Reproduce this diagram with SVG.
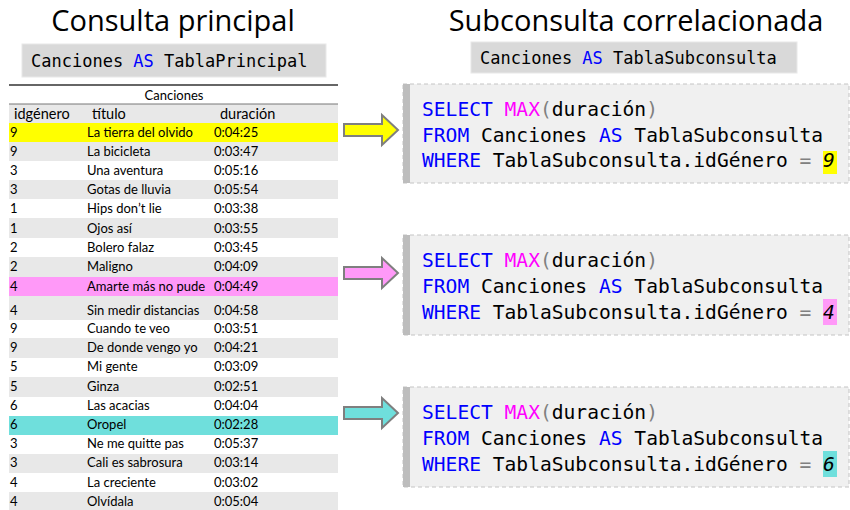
<svg xmlns="http://www.w3.org/2000/svg" width="850" height="510" viewBox="0 0 850 510">
<style>
.title{font-family:"Open Sans","Noto Sans",sans-serif;font-size:29px;fill:#000;text-anchor:middle}
.alias{font-family:"DejaVu Sans Mono","Liberation Mono",monospace;font-size:17px;fill:#000}
.aliasbox{fill:#d9d9d9;stroke:#e8e8e8;stroke-width:1}
.t{font-family:Lato,"Open Sans",sans-serif;font-size:13px;fill:#000}
.th{font-family:Lato,"Open Sans",sans-serif;font-size:14.5px;fill:#000}
.g{fill:#e8e8e8}
.code{font-family:"DejaVu Sans Mono","Liberation Mono",monospace;font-size:19.6px;fill:#000}
.kw{fill:#0000ff}
.fn{fill:#ff00ff}
.op{fill:#808080}
.box{fill:#f0f0f0;stroke:#c4c4c4;stroke-width:1;stroke-dasharray:4 3}
.bar{fill:#bdbdbd}
.arrow{stroke:#7f7f7f;stroke-width:2;stroke-linejoin:miter}
</style>

<!-- Titles -->
<g id="title-main"><text class="title" x="173" y="31">Consulta principal</text></g>
<g id="title-sub"><text class="title" x="636" y="31">Subconsulta correlacionada</text></g>

<g id="alias-main">
<rect class="aliasbox" x="22" y="44" width="304" height="33"/>
<text class="alias" x="31" y="67">Canciones <tspan class="kw">AS</tspan> TablaPrincipal</text>
</g>
<g id="alias-sub">
<rect class="aliasbox" x="471" y="42" width="326" height="31"/>
<text class="alias" x="480" y="64">Canciones <tspan class="kw">AS</tspan> TablaSubconsulta</text>
</g>

<!-- Table -->
<g id="table">
<line x1="9" y1="85" x2="338" y2="85" stroke="#333" stroke-width="1.5"/>
<text class="t" x="174" y="100" text-anchor="middle" font-size="13.5">Canciones</text>
<rect class="g" x="9" y="104" width="329" height="19"/>
<line x1="9" y1="104" x2="338" y2="104" stroke="#777" stroke-width="1"/>
<text class="th" x="14" y="119">idgénero</text>
<text class="th" x="92" y="119">título</text>
<text class="th" x="220" y="119">duración</text>

<rect x="9" y="123" width="329" height="19" fill="#ffff00"/>
<rect class="g" x="9" y="142" width="329" height="19"/>
<rect class="g" x="9" y="180" width="329" height="19"/>
<rect class="g" x="9" y="218" width="329" height="20"/>
<rect class="g" x="9" y="257" width="329" height="20"/>
<rect x="9" y="277" width="329" height="19" fill="#ff99f8"/>
<rect class="g" x="9" y="296" width="329" height="24"/>
<rect class="g" x="9" y="338" width="329" height="20"/>
<rect class="g" x="9" y="377" width="329" height="20"/>
<rect x="9" y="416" width="329" height="19" fill="#6fdfdc"/>
<rect class="g" x="9" y="454" width="329" height="19"/>
<rect class="g" x="9" y="492" width="329" height="18"/>

<g class="t">
<text x="10" y="137">9</text><text x="87" y="137">La tierra del olvido</text><text x="214" y="137">0:04:25</text>
<text x="10" y="156">9</text><text x="87" y="156">La bicicleta</text><text x="214" y="156">0:03:47</text>
<text x="10" y="175">3</text><text x="87" y="175">Una aventura</text><text x="214" y="175">0:05:16</text>
<text x="10" y="194">3</text><text x="87" y="194">Gotas de lluvia</text><text x="214" y="194">0:05:54</text>
<text x="10" y="213">1</text><text x="87" y="213">Hips don’t lie</text><text x="214" y="213">0:03:38</text>
<text x="10" y="233">1</text><text x="87" y="233">Ojos así</text><text x="214" y="233">0:03:55</text>
<text x="10" y="252">2</text><text x="87" y="252">Bolero falaz</text><text x="214" y="252">0:03:45</text>
<text x="10" y="271">2</text><text x="87" y="271">Maligno</text><text x="214" y="271">0:04:09</text>
<text x="10" y="291">4</text><text x="87" y="291">Amarte más no pude</text><text x="214" y="291">0:04:49</text>
<text x="10" y="315">4</text><text x="87" y="315">Sin medir distancias</text><text x="214" y="315">0:04:58</text>
<text x="10" y="333">9</text><text x="87" y="333">Cuando te veo</text><text x="214" y="333">0:03:51</text>
<text x="10" y="352">9</text><text x="87" y="352">De donde vengo yo</text><text x="214" y="352">0:04:21</text>
<text x="10" y="371">5</text><text x="87" y="371">Mi gente</text><text x="214" y="371">0:03:09</text>
<text x="10" y="391">5</text><text x="87" y="391">Ginza</text><text x="214" y="391">0:02:51</text>
<text x="10" y="410">6</text><text x="87" y="410">Las acacias</text><text x="214" y="410">0:04:04</text>
<text x="10" y="429">6</text><text x="87" y="429">Oropel</text><text x="214" y="429">0:02:28</text>
<text x="10" y="448">3</text><text x="87" y="448">Ne me quitte pas</text><text x="214" y="448">0:05:37</text>
<text x="10" y="467">3</text><text x="87" y="467">Cali es sabrosura</text><text x="214" y="467">0:03:14</text>
<text x="10" y="487">4</text><text x="87" y="487">La creciente</text><text x="214" y="487">0:03:02</text>
<text x="10" y="506">4</text><text x="87" y="506">Olvídala</text><text x="214" y="506">0:05:04</text>
</g>
</g>

<!-- Connectors -->
<g id="connectors">
<path class="arrow" fill="#ffff00" d="M344,124 H382 V115 L398,130 L382,145 V136 H344 Z"/>
<path class="arrow" fill="#ff99f8" d="M344,267 H382 V258 L398,273 L382,288 V279 H344 Z"/>
<path class="arrow" fill="#6fdfdc" d="M344,407 H382 V398 L398,413 L382,428 V419 H344 Z"/>
</g>

<!-- Code boxes -->
<g id="subquery-9">
<rect class="box" x="403" y="84" width="446" height="99"/>
<rect class="bar" x="403" y="84" width="7" height="99"/>
<rect x="823" y="151" width="14" height="23" fill="#ffff00"/>
<text class="code" x="422" y="116"><tspan class="kw">SELECT</tspan> <tspan class="fn">MAX</tspan><tspan class="op">(</tspan>duración<tspan class="op">)</tspan></text>
<text class="code" x="422" y="141.7"><tspan class="kw">FROM</tspan> Canciones <tspan class="kw">AS</tspan> TablaSubconsulta</text>
<text class="code" x="422" y="167.3"><tspan class="kw">WHERE</tspan> TablaSubconsulta.idGénero <tspan class="op">=</tspan> <tspan font-style="italic">9</tspan></text>
</g>

<g id="subquery-4">
<rect class="box" x="403" y="235" width="446" height="100"/>
<rect class="bar" x="403" y="235" width="7" height="100"/>
<rect x="823" y="299" width="14" height="26" fill="#ff99f8"/>
<text class="code" x="422" y="267.3"><tspan class="kw">SELECT</tspan> <tspan class="fn">MAX</tspan><tspan class="op">(</tspan>duración<tspan class="op">)</tspan></text>
<text class="code" x="422" y="293.3"><tspan class="kw">FROM</tspan> Canciones <tspan class="kw">AS</tspan> TablaSubconsulta</text>
<text class="code" x="422" y="319.3"><tspan class="kw">WHERE</tspan> TablaSubconsulta.idGénero <tspan class="op">=</tspan> <tspan font-style="italic">4</tspan></text>
</g>

<g id="subquery-6">
<rect class="box" x="403" y="387" width="446" height="100"/>
<rect class="bar" x="403" y="387" width="7" height="100"/>
<rect x="823" y="451" width="14" height="26" fill="#6fdfdc"/>
<text class="code" x="422" y="419.3"><tspan class="kw">SELECT</tspan> <tspan class="fn">MAX</tspan><tspan class="op">(</tspan>duración<tspan class="op">)</tspan></text>
<text class="code" x="422" y="445"><tspan class="kw">FROM</tspan> Canciones <tspan class="kw">AS</tspan> TablaSubconsulta</text>
<text class="code" x="422" y="470.7"><tspan class="kw">WHERE</tspan> TablaSubconsulta.idGénero <tspan class="op">=</tspan> <tspan font-style="italic">6</tspan></text>
</g>
</svg>
